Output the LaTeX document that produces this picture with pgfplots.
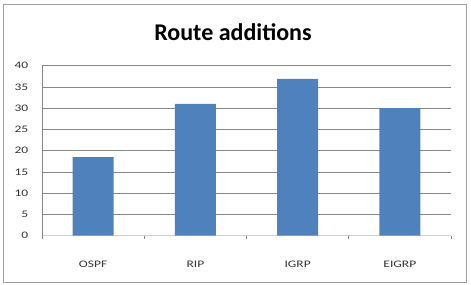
\documentclass[border=0pt]{standalone}
\usepackage{pgfplots}
\pgfplotsset{compat=1.18}
\usepackage{fontspec}
\setmainfont{Carlito}
\newfontfamily\tickfont[FakeStretch=1.35]{Carlito}
\definecolor{barblue}{HTML}{4F81BD}
\definecolor{gridgray}{HTML}{868686}
\begin{document}
\begin{tikzpicture}[x=1pt,y=1pt]
\path[use as bounding box] (-42,-48.3) rectangle (429,235.7);
\begin{axis}[
  at={(0,0)}, anchor=south west,
  scale only axis,
  width=409pt, height=170pt,
  xmin=-0.5, xmax=3.5, ymin=0, ymax=40,
  xtick={0,1,2,3},
  xticklabels={OSPF,RIP,IGRP,EIGRP},
  minor xtick={-0.5,0.5,1.5,2.5,3.5},
  ytick={0,5,...,40},
  ymajorgrids,
  grid style={gridgray, line width=0.7pt},
  major x tick style={draw=none},
  minor x tick style={gridgray, line width=0.6pt},
  major y tick style={draw=none},
  tick align=outside,
  minor tick length=3pt,
  axis x line*=bottom,
  axis y line*=left,
  x axis line style={draw=gridgray!40, line width=0.5pt},
  y axis line style={draw=gridgray, line width=0.7pt},
  separate axis lines,
  axis line style={-},
  ticklabel style={font=\tickfont\fontsize{10}{11}\selectfont, text=black!80},
  xticklabel style={anchor=base, yshift=-27.6pt},
  yticklabel style={anchor=east, xshift=-6pt},
  /pgf/number format/assume math mode=true,
  ybar, bar width=41pt,
  clip=false,
]
\addplot[fill=barblue, draw=none] coordinates {(0,18.5) (1,31.0) (2,36.9) (3,30.0)};
\end{axis}
\draw[gridgray!80, line width=0.8pt] (-39,-46.3) rectangle (424,231.7);
\node[font=\bfseries\fontsize{24}{26}\selectfont, anchor=base, inner sep=0pt] at (191,194.7) {Route additions};
\end{tikzpicture}
\end{document}
